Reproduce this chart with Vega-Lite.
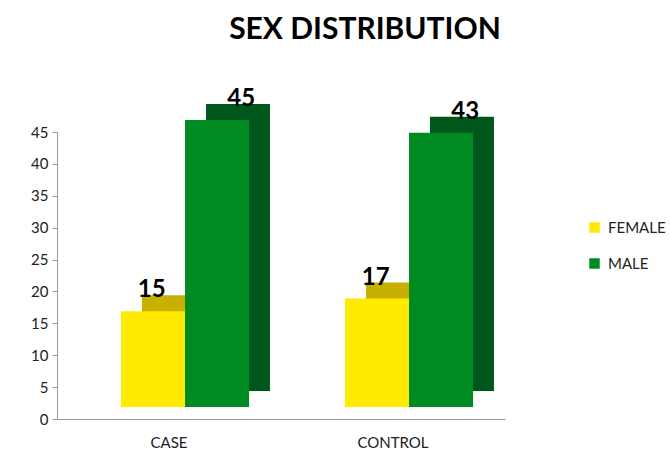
{
  "$schema": "https://vega.github.io/schema/vega-lite/v6.json",
  "width": 448,
  "height": 287,
  "autosize": {"type": "none"},
  "padding": {"left": 57, "top": 132, "right": 165, "bottom": 34},
  "background": "white",
  "config": {"view": {"stroke": null}, "font": "Lato"},
  "title": {"text": "SEX DISTRIBUTION", "fontSize": 30, "fontWeight": "bold", "font": "Lato", "anchor": "middle", "dx": 84, "offset": 42, "color": "#000"},
  "data": {"values": [
    {"group": "CASE", "sex": "FEMALE", "count": 15},
    {"group": "CASE", "sex": "MALE", "count": 45},
    {"group": "CONTROL", "sex": "FEMALE", "count": 17},
    {"group": "CONTROL", "sex": "MALE", "count": 43}
  ]},
  "encoding": {
    "x": {"field": "group", "type": "nominal", "sort": ["CASE", "CONTROL"], "scale": {"paddingInner": 0, "paddingOuter": 0},
      "axis": {"title": null, "labelAngle": 0, "labelFontSize": 15, "labelColor": "#222", "labelPadding": 16, "ticks": false, "domainColor": "#999"}},
    "y": {"field": "count", "type": "quantitative", "scale": {"domain": [0, 45], "nice": false},
      "axis": {"title": null, "values": [0, 5, 10, 15, 20, 25, 30, 35, 40, 45], "grid": false, "labelFontSize": 15, "labelColor": "#222", "tickColor": "#999", "domainColor": "#999", "tickSize": 5, "labelPadding": 4}}
  },
  "layer": [
    {
      "mark": {"type": "bar", "yOffset": -28, "y2Offset": -28},
      "encoding": {
        "xOffset": {"field": "sex", "type": "nominal", "sort": ["FEMALE", "MALE"], "scale": {"paddingOuter": 0.75, "paddingInner": 0, "align": 0.885}},
        "color": {"field": "sex", "type": "nominal", "scale": {"domain": ["FEMALE", "MALE"], "range": ["#C7B000", "#00571C"]}, "legend": null}}
    },
    {
      "mark": {"type": "bar", "yOffset": -12, "y2Offset": -12},
      "encoding": {
        "xOffset": {"field": "sex", "type": "nominal", "sort": ["FEMALE", "MALE"], "scale": {"paddingOuter": 0.75, "paddingInner": 0, "align": 0.667}},
        "color": {"field": "sex", "type": "nominal", "scale": {"domain": ["FEMALE", "MALE"], "range": ["#FFEA00", "#008A22"]},
        "legend": {"title": null, "orient": "none", "legendX": 530, "legendY": 88, "padding": 0, "symbolType": "square", "symbolSize": 110, "symbolStrokeWidth": 0, "labelFontSize": 15, "labelColor": "#222", "rowPadding": 20, "labelOffset": 6}}}
    },
    {
      "mark": {"type": "text", "dy": -26, "dx": 5, "baseline": "alphabetic", "fontSize": 24, "fontWeight": "bold", "font": "Lato", "color": "#000"},
      "encoding": {
        "xOffset": {"field": "sex", "type": "nominal", "sort": ["FEMALE", "MALE"], "scale": {"paddingOuter": 0.75, "paddingInner": 0, "align": 0.667}},
        "text": {"field": "count", "type": "quantitative"}}
    }
  ],
  "resolve": {"scale": {"color": "independent", "xOffset": "independent"}}
}
